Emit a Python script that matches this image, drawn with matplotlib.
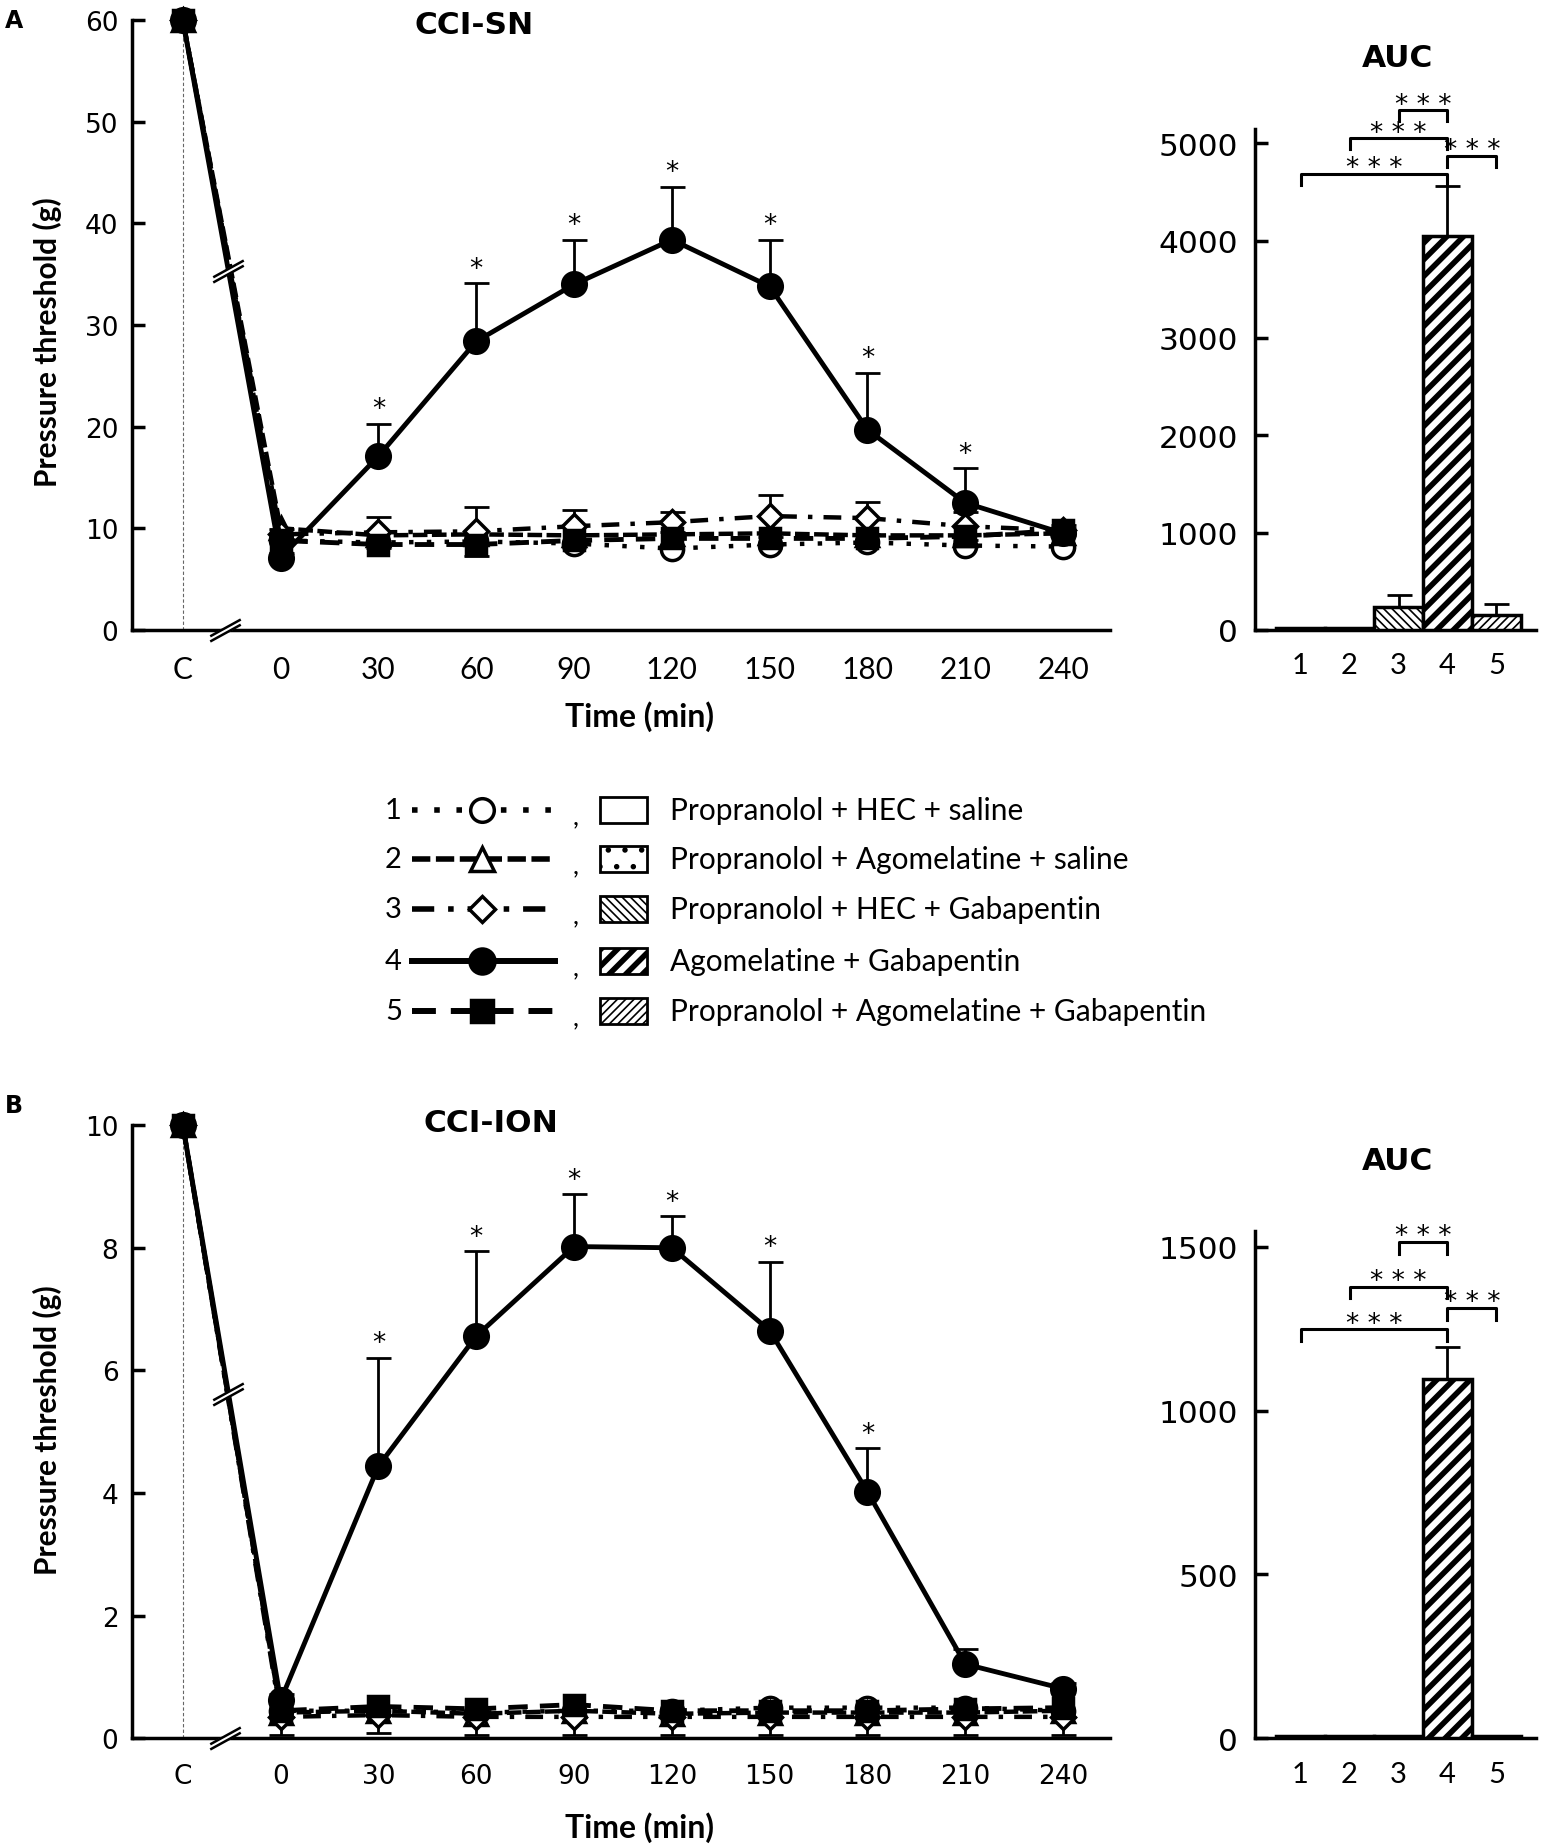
import numpy as np
import matplotlib
matplotlib.use('Agg')
import matplotlib.pyplot as plt
from matplotlib.patches import Rectangle
from matplotlib.path import Path

# layout grid of the reference (pixels), used only for placing axes/text
W, H = 1313, 1568

# ---------------- data ----------------
time_labels = ['C', '0', '30', '60', '90', '120', '150', '180', '210', '240']
time_pos = [-30, 0, 30, 60, 90, 120, 150, 180, 210, 240]

group_ids = ['1', '2', '3', '4', '5']
group_names = ['Propranolol + HEC + saline',
               'Propranolol + Agomelatine + saline',
               'Propranolol + HEC + Gabapentin',
               'Agomelatine + Gabapentin',
               'Propranolol + Agomelatine + Gabapentin']

# panel A  (CCI-SN)
sn_g1 = [60, 8.8, 8.6, 8.7, 8.5, 8.0, 8.4, 8.6, 8.3, 8.2]
sn_g2 = [60, 10.0, 9.3, 9.4, 9.3, 9.4, 9.5, 9.3, 9.3, 9.5]
sn_g3 = [60, 9.4, 9.6, 9.7, 10.2, 10.6, 11.2, 11.0, 10.2, 9.8]
sn_g3_err = [0, 0.5, 1.5, 2.4, 1.6, 1.0, 2.1, 1.6, 1.4, 0.5]
sn_g4 = [60, 7.1, 17.1, 28.4, 34.0, 38.4, 33.8, 19.7, 12.5, 9.5]
sn_g4_err = [0, 0.5, 3.2, 5.7, 4.4, 5.2, 4.6, 5.6, 3.4, 0.5]
sn_g5 = [60, 8.8, 8.4, 8.4, 8.8, 9.0, 9.0, 9.0, 9.2, 9.8]
sn_stars = [0, 0, 1, 1, 1, 1, 1, 1, 1, 0]

# panel B  (CCI-ION)
ion_g1 = [10, 0.45, 0.45, 0.42, 0.45, 0.45, 0.50, 0.50, 0.50, 0.45]
ion_g2 = [10, 0.42, 0.45, 0.40, 0.45, 0.40, 0.42, 0.42, 0.42, 0.45]
ion_g3 = [10, 0.35, 0.38, 0.35, 0.35, 0.35, 0.35, 0.35, 0.35, 0.35]
ion_g3_err_low = [0, 0.3, 0.3, 0.3, 0.3, 0.3, 0.3, 0.3, 0.3, 0.3]
ion_g4 = [10, 0.62, 4.44, 6.56, 8.02, 8.0, 6.65, 4.02, 1.21, 0.81]
ion_g4_err = [0, 0.1, 1.77, 1.38, 0.85, 0.52, 1.12, 0.71, 0.24, 0.1]
ion_g5 = [10, 0.45, 0.52, 0.48, 0.55, 0.45, 0.45, 0.45, 0.48, 0.50]
ion_stars = [0, 0, 1, 1, 1, 1, 1, 1, 0, 0]

# AUC
auc_x = [1, 2, 3, 4, 5]
auc_sn = [20, 20, 230, 4050, 150]
auc_sn_err = [0, 0, 130, 510, 120]
auc_ion = [6, 6, 6, 1097, 6]
auc_ion_err = [0, 0, 0, 97, 0]
brackets_sn = [(1, 4, 4685), (2, 4, 5050), (3, 4, 5340), (4, 5, 4870)]
brackets_ion = [(1, 4, 1248), (2, 4, 1378), (3, 4, 1514), (4, 5, 1313)]

# ---------------- styles ----------------
line_styles = [
    dict(ls=(0, (1, 3.0)), lw=3.2, marker='o', mfc='white', ms=16),
    dict(ls=(0, (3.3, 1)), lw=3.2, marker='^', mfc='white', ms=16),
    dict(ls=(0, (4, 2.5, 1, 2.5)), lw=3.2, marker='D', mfc='white', ms=12),
    dict(ls='-', lw=3.5, marker='o', mfc='black', ms=17),
    dict(ls=(0, (4, 2.5)), lw=3.5, marker='s', mfc='black', ms=15),
]
bar_hatches = [None, '.', '\\\\\\\\', '//', '////']
hatch_lws = [1.0, 1.5, 1.2, 4.0, 1.2]

NARROW = 'Lato'


def pos(left, top, right, bottom):
    return [left / W, 1 - bottom / H, (right - left) / W, (bottom - top) / H]


def style_axes(ax):
    for s in ['top', 'right']:
        ax.spines[s].set_visible(False)
    for s in ['left', 'bottom']:
        ax.spines[s].set_linewidth(2.5)
    ax.tick_params(axis='y', direction='in', length=9, width=2.5)
    ax.tick_params(axis='x', length=0)


brk_path = Path([(-1, -0.72), (1, 0.38), (-1, -0.38), (1, 0.72)],
                [Path.MOVETO, Path.LINETO, Path.MOVETO, Path.LINETO])
gap_path = Path([(-1, -0.62), (1, 0.48), (1, 0.62), (-1, -0.48), (-1, -0.62)],
                [Path.MOVETO, Path.LINETO, Path.LINETO, Path.LINETO, Path.CLOSEPOLY])


def break_mark(ax, x, y):
    ax.plot([x], [y], marker=gap_path, ms=22, mfc='white', mec='white', mew=3,
            ls='none', zorder=8, clip_on=False)
    ax.plot([x], [y], marker=brk_path, ms=22, mec='black', mew=1.8,
            ls='none', zorder=9, clip_on=False)


def line_panel(ax, series, ymax, yticks, stars, xfont, xsize):
    g1, g2, g3, g3_err, g4, g4_err, g5 = series
    ax.vlines(time_pos[0], 0, ymax, colors='0.4', linestyles=(0, (3, 2)), lw=0.8, zorder=1)
    ax.errorbar(time_pos, g3, yerr=g3_err, fmt='none', ecolor='k', elinewidth=2,
                capsize=9, capthick=2, zorder=2, clip_on=False)
    ax.errorbar(time_pos, g4, yerr=[np.zeros(len(g4)), g4_err], fmt='none', ecolor='k',
                elinewidth=2, capsize=9, capthick=2, zorder=2, clip_on=False)
    for data, st in zip([g1, g2, g3, g4, g5], line_styles):
        ax.plot(time_pos, data, color='black', linestyle=st['ls'], lw=st['lw'],
                marker=st['marker'], ms=st['ms'], mfc=st['mfc'], mec='black', mew=2.5,
                zorder=4, clip_on=False)
    err_top = np.array(g4) + np.array(g4_err)
    for x, top, s in zip(time_pos, err_top, stars):
        if s:
            ax.annotate('*', (x, top), xytext=(0, 1), textcoords='offset points',
                        ha='center', va='bottom', fontsize=19)
    # break marks
    xb = -16
    yb = np.interp(xb, time_pos[:2], g4[:2])
    break_mark(ax, xb, yb)
    break_mark(ax, -17, 0)
    ax.set_xlim(-45.5, 254.5)
    ax.set_ylim(0, ymax)
    ax.set_yticks(yticks)
    ax.set_xticks(time_pos)
    ax.set_xticklabels(time_labels, fontfamily=xfont, fontsize=xsize)
    ax.tick_params(axis='y', labelsize=19, pad=10)
    ax.tick_params(axis='x', pad=18)
    style_axes(ax)


def auc_panel(ax, vals, errs, brackets, ymax, yticks, tick_d):
    for x, v, h, hlw in zip(auc_x, vals, bar_hatches, hatch_lws):
        with plt.rc_context({'hatch.linewidth': hlw}):
            b = ax.bar(x, v, width=1.0, facecolor='white', edgecolor='black',
                       linewidth=2.5, hatch=h, zorder=3)
        for p in b:
            if hasattr(p, 'set_hatch_linewidth'):
                p.set_hatch_linewidth(hlw)
    ax.errorbar(auc_x, vals, yerr=[np.zeros(len(vals)), errs], fmt='none', ecolor='k',
                elinewidth=2, capsize=9, capthick=2, zorder=2)
    for a, b, y in brackets:
        ax.plot([a, a, b, b], [y - tick_d, y, y, y - tick_d], color='black', lw=2.2,
                clip_on=False, zorder=5)
        ax.annotate('* * *', ((a + b) / 2, y), xytext=(0, -1), textcoords='offset points',
                    ha='center', va='baseline', fontsize=19, annotation_clip=False)
    ax.set_xlim(0.06, 5.8)
    ax.set_ylim(0, ymax)
    ax.set_yticks(yticks)
    ax.set_xticks(auc_x)
    ax.set_xticklabels(group_ids, fontfamily=NARROW, fontsize=21)
    ax.tick_params(axis='y', labelsize=22.5, pad=12)
    ax.tick_params(axis='x', pad=16)
    style_axes(ax)


fig = plt.figure(figsize=(15.51, 18.49), dpi=100)

axA = fig.add_axes(pos(112, 18, 940, 535))
line_panel(axA, [sn_g1, sn_g2, sn_g3, sn_g3_err, sn_g4, sn_g4_err, sn_g5], 60,
           [0, 10, 20, 30, 40, 50, 60], sn_stars, NARROW, 21.5)

axA2 = fig.add_axes(pos(1062, 110, 1300, 535))
auc_panel(axA2, auc_sn, auc_sn_err, brackets_sn, 5150, [0, 1000, 2000, 3000, 4000, 5000], 110)

axB = fig.add_axes(pos(112, 955, 940, 1475))
# group 3 error bars point downward in panel B
line_panel(axB, [ion_g1, ion_g2, ion_g3, [np.array(ion_g3_err_low), np.zeros(10)],
                 ion_g4, ion_g4_err, ion_g5], 10,
           [0, 2, 4, 6, 8, 10], ion_stars, 'DejaVu Sans', 19)

axB2 = fig.add_axes(pos(1062, 1045, 1300, 1475))
auc_panel(axB2, auc_ion, auc_ion_err, brackets_ion, 1547, [0, 500, 1000, 1500], 36)


# titles, labels
def ftext(x, y, s, **kw):
    fig.text(x / W, 1 - y / H, s, **kw)


ftext(12, 18, 'A', fontsize=17, fontweight='bold', ha='center', va='center')
ftext(12, 938, 'B', fontsize=17, fontweight='bold', ha='center', va='center')
ftext(401, 22, 'CCI-SN', fontsize=22.5, fontweight='bold', ha='center', va='center')
ftext(416, 953, 'CCI-ION', fontsize=22.5, fontweight='bold', ha='center', va='center')
ftext(1183, 50, 'AUC', fontsize=22.5, fontweight='bold', ha='center', va='center')
ftext(1183, 985, 'AUC', fontsize=22.5, fontweight='bold', ha='center', va='center')
for yc in (608, 1550):
    ftext(541, yc, 'Time (min)', fontsize=23, fontweight='bold', family=NARROW,
          ha='center', va='center')
for yc in (290, 1213):
    ftext(40, yc, 'Pressure threshold (g)', fontsize=21.5, fontweight='bold', family=NARROW,
          rotation=90, ha='center', va='center')

# legend drawn on an overlay axes in layout pixels
lg = fig.add_axes([0, 0, 1, 1])
lg.set_xlim(0, W)
lg.set_ylim(H, 0)
lg.axis('off')
row_y = [688, 729, 772, 816, 858]
for i, (gid, name, st, h, hlw) in enumerate(zip(group_ids, group_names, line_styles,
                                                  bar_hatches, hatch_lws)):
    y = row_y[i]
    lg.text(333, y, gid, fontsize=21, family=NARROW, ha='center', va='center')
    lg.plot([349, 470], [y, y], color='black', linestyle=st['ls'], lw=st['lw'] + 0.8)
    lg.plot([408], [y], marker=st['marker'], ms=st['ms'] + 1, mfc=st['mfc'], mec='black',
            mew=2.5, ls='none')
    lg.text(487, y + 5, ',', fontsize=19, family=NARROW, ha='center', va='center')
    with plt.rc_context({'hatch.linewidth': hlw}):
        r = Rectangle((508, y - 11), 40, 22, facecolor='white', edgecolor='black',
                      lw=2, hatch=h)
    if hasattr(r, 'set_hatch_linewidth'):
        r.set_hatch_linewidth(hlw)
    lg.add_patch(r)
    lg.text(567, y, name, fontsize=21.5, family=NARROW, ha='left', va='center')

fig.savefig('out.png', dpi=100, facecolor='white')
